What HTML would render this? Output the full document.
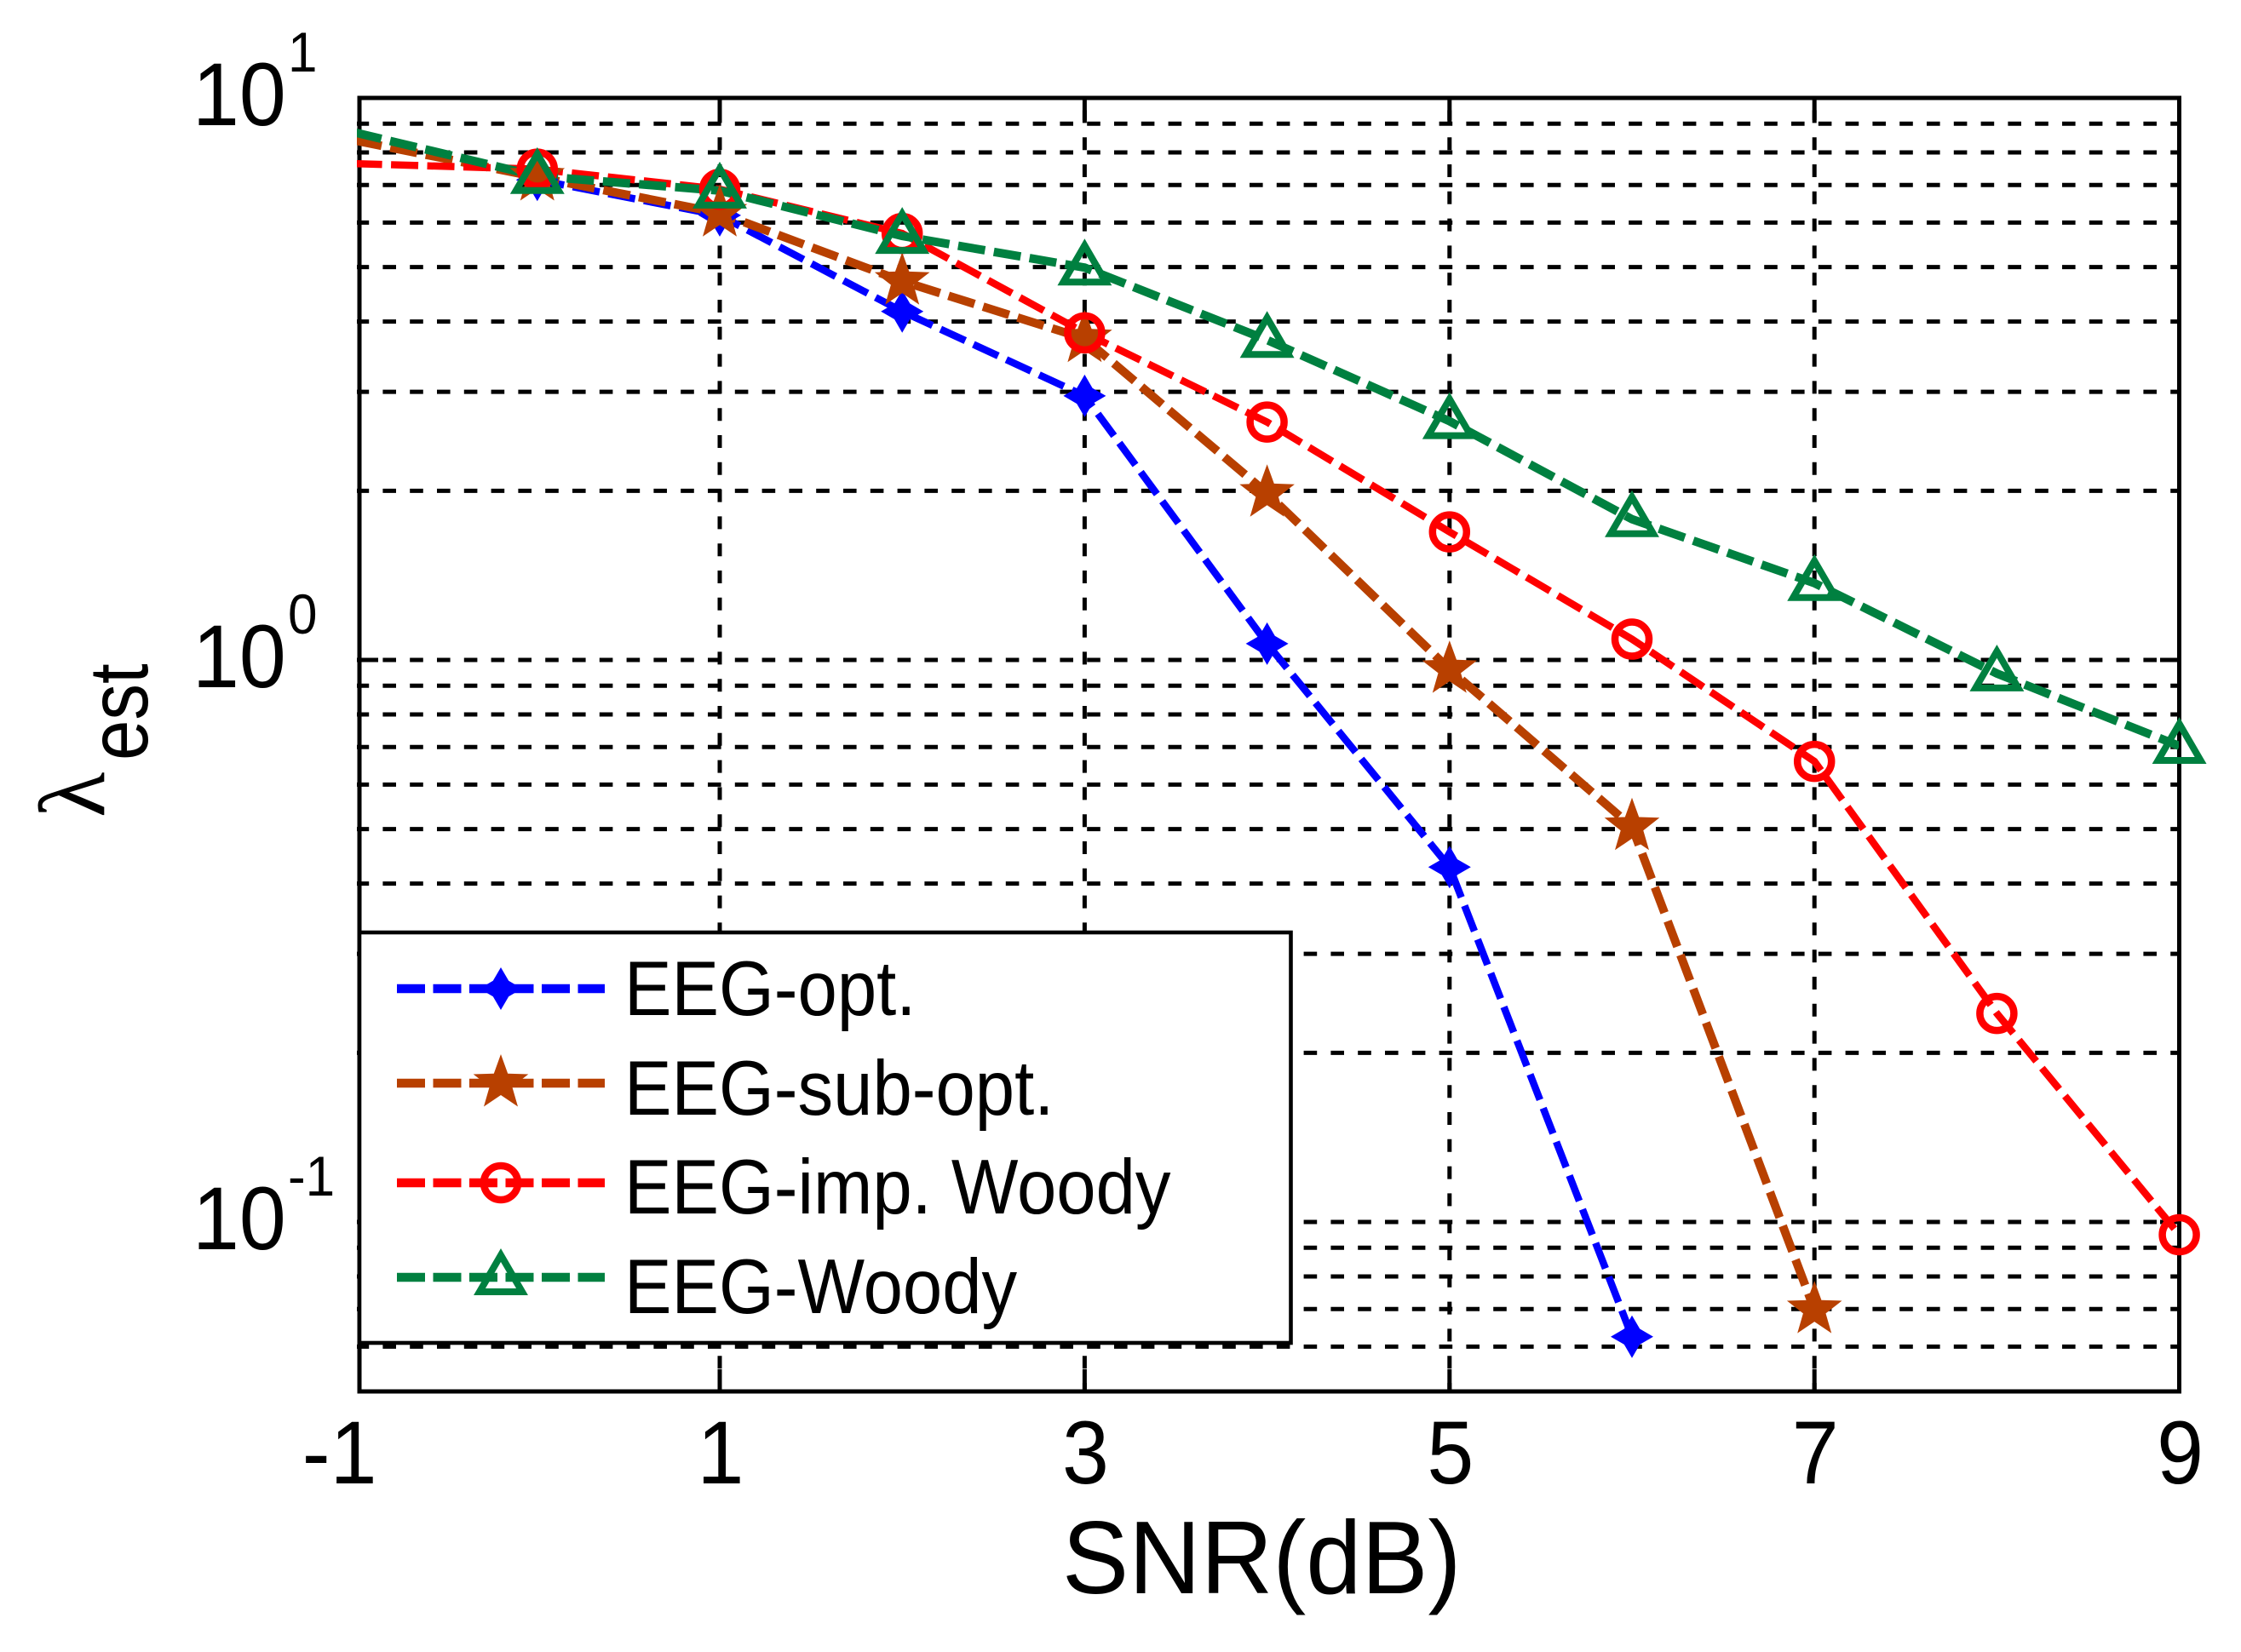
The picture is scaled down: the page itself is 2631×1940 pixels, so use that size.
<!DOCTYPE html>
<html>
<head>
<meta charset="utf-8">
<title>SNR chart</title>
<style>
html,body{margin:0;padding:0;background:#fff;}
svg{display:block;font-family:"Liberation Sans",sans-serif;}
</style>
</head>
<body>
<svg id="chart" xmlns="http://www.w3.org/2000/svg" width="2631" height="1940" viewBox="0 0 2631 1940">
  <rect x="0" y="0" width="2631" height="1940" fill="#fff"/>
  <defs>
    <clipPath id="plot-clip"><rect x="419" y="115" width="2139" height="1519"/></clipPath>
  </defs>
  <g id="grid" clip-path="url(#plot-clip)"></g>
  <g id="ticks"></g>
  <rect x="422" y="115" width="2136.5" height="1519" fill="none" stroke="#000" stroke-width="5"/>
  <g id="series-lines" clip-path="url(#plot-clip)"></g>
  <g id="series-marks"></g>
  <g id="tick-labels" fill="#000"></g>

  <text transform="translate(1247,1871) scale(0.96,1)" font-size="122" fill="#000">SNR(dB)</text>
  <g fill="#000">
    <text transform="translate(122,960) rotate(-90)" font-size="110" font-family="'Liberation Serif',serif">λ</text>
    <text transform="translate(173,893) rotate(-90) scale(0.87,1)" font-size="98">est</text>
  </g>

  <g id="legend">
    <rect x="422" y="1095" width="1093.5" height="482" fill="#fff" stroke="#000" stroke-width="4.6"/>
    <g id="legend-keys"></g>
    <g fill="#000" font-size="91">
      <text transform="translate(733,1192) scale(0.915,1)">EEG-opt.</text>
      <text transform="translate(733,1309) scale(0.915,1)">EEG-sub-opt.</text>
      <text transform="translate(733,1425) scale(0.915,1)">EEG-imp. Woody</text>
      <text transform="translate(733,1542) scale(0.915,1)">EEG-Woody</text>
    </g>
  </g>
</svg>
<script>
// ---- chart data ----
const snrOpt = [0, 1, 2, 3, 4, 5, 6];
const lambdaOpt = [7.15, 6.18, 4.17, 2.95, 1.069, 0.428, 0.0625];
const snrSub = [-1, 0, 1, 2, 3, 4, 5, 6, 7];
const lambdaSub = [8.40, 7.23, 6.24, 4.72, 3.73, 1.98, 0.962, 0.505, 0.0698];
const snrImp = [-1, 0, 1, 2, 3, 4, 5, 6, 7, 8, 9];
const lambdaImp = [7.64, 7.47, 6.88, 5.74, 3.82, 2.65, 1.69, 1.089, 0.660, 0.235, 0.0949];
const snrWoody = [-1, 0, 1, 2, 3, 4, 5, 6, 7, 8, 9];
const lambdaWoody = [8.68, 7.26, 6.84, 5.68, 4.99, 3.71, 2.66, 1.78, 1.37, 0.946, 0.703];
const xTickValues = [-1, 1, 3, 5, 7, 9];
const xTickLabels = ["-1", "1", "3", "5", "7", "9"];
const yMajorValues = [10, 1, 0.1];
const yMajorExponents = ["1", "0", "-1"];
const yMinorValues = [9, 8, 7, 6, 5, 4, 3, 2, 0.9, 0.8, 0.7, 0.6, 0.5, 0.4, 0.3, 0.2, 0.09, 0.08, 0.07, 0.06];

// ---- axis functions ----
function xScale(v) { return 845 + (v - 1) * 214.2; }
function yScale(v) { return 115 + (1 - Math.log10(v)) * 660; }

const NS = "http://www.w3.org/2000/svg";
const gridG = document.getElementById("grid");
const ticksG = document.getElementById("ticks");
const labelsG = document.getElementById("tick-labels");
const linesG = document.getElementById("series-lines");
const marksG = document.getElementById("series-marks");
const legendKeysG = document.getElementById("legend-keys");
const PLOT_L = 422, PLOT_R = 2558, PLOT_T = 115, PLOT_B = 1634;

function hGrid(v) {
  const l = document.createElementNS(NS, "line");
  
  
  l.setAttribute("x1", 417.6);
  l.setAttribute("x2", PLOT_R);
  l.setAttribute("y1", yScale(v));
  l.setAttribute("y2", yScale(v));
  l.setAttribute("stroke", "#000");
  l.setAttribute("stroke-width", 5);
  l.setAttribute("stroke-dasharray", "15.6 16.2");
  gridG.appendChild(l);
}
function vGrid(v) {
  const l = document.createElementNS(NS, "line");
  
  
  l.setAttribute("x1", xScale(v));
  l.setAttribute("x2", xScale(v));
  l.setAttribute("y1", PLOT_T);
  l.setAttribute("y2", PLOT_B);
  l.setAttribute("stroke", "#000");
  l.setAttribute("stroke-width", 5);
  l.setAttribute("stroke-dasharray", "15 16.8");
  l.setAttribute("stroke-dashoffset", -14.4);
  gridG.appendChild(l);
}
function tick(x1, y1, x2, y2) {
  const t = document.createElementNS(NS, "line");
  
  
  t.setAttribute("x1", x1);
  t.setAttribute("y1", y1);
  t.setAttribute("x2", x2);
  t.setAttribute("y2", y2);
  t.setAttribute("stroke", "#000");
  t.setAttribute("stroke-width", 5);
  ticksG.appendChild(t);
}
function label(str, x, y, size, anchor, name) {
  const t = document.createElementNS(NS, "text");
  
  
  t.setAttribute("transform", "translate(" + x + "," + y + ") scale(0.94,1)");
  t.setAttribute("font-size", size);
  t.setAttribute("text-anchor", anchor);
  t.textContent = str;
  labelsG.appendChild(t);
}

yMinorValues.forEach(hGrid);
yMajorValues.slice(1).forEach(hGrid);
xTickValues.slice(1, -1).forEach(vGrid);

xTickValues.forEach(function (v, i) {
  if (i > 0 && i < xTickValues.length - 1) {
    tick(xScale(v), PLOT_B, xScale(v), PLOT_B - 26);
    tick(xScale(v), PLOT_T, xScale(v), PLOT_T + 26);
  }
  const offset = v === -1 ? -18 : 1;
  label(xTickLabels[i], xScale(v) + offset, 1742, 105, "middle", "x-tick-label");
});
yMajorValues.forEach(function (v, i) {
  if (i > 0) {
    tick(PLOT_L, yScale(v), PLOT_L + 22, yScale(v));
    tick(PLOT_R, yScale(v), PLOT_R - 22, yScale(v));
  }
  label("10", 226, yScale(v) + 32, 105, "start", "y-tick-label");
  label(yMajorExponents[i], 338, yScale(v) - 31, 66, "start", "y-tick-exponent");
});

function starPoints(cx, cy, R, r, n) {
  const pts = [];
  for (let i = 0; i < n * 2; i++) {
    const a = -Math.PI / 2 + i * Math.PI / n;
    const d = i % 2 === 0 ? R : r;
    pts.push((cx + d * Math.cos(a)).toFixed(1) + "," + (cy + d * Math.sin(a)).toFixed(1));
  }
  return pts.join(" ");
}
function drawMarker(kind, cx, cy, color, parent) {
  if (kind === "circle") {
    const c = document.createElementNS(NS, "circle");
    
    
    c.setAttribute("cx", cx);
    c.setAttribute("cy", cy);
    c.setAttribute("r", 20);
    c.setAttribute("fill", "none");
    c.setAttribute("stroke", color);
    c.setAttribute("stroke-width", 8.5);
    parent.appendChild(c);
  } else if (kind === "triangle") {
    const p = document.createElementNS(NS, "polygon");
    
    
    p.setAttribute("points", cx + "," + (cy - 26) + " " + (cx + 25) + "," + (cy + 17) + " " + (cx - 25) + "," + (cy + 17));
    p.setAttribute("fill", "none");
    p.setAttribute("stroke", color);
    p.setAttribute("stroke-width", 8);
    parent.appendChild(p);
  } else if (kind === "star") {
    const p = document.createElementNS(NS, "polygon");
    
    
    p.setAttribute("points", starPoints(cx, cy, 34, 14, 5));
    p.setAttribute("fill", color);
    parent.appendChild(p);
  } else {
    const p = document.createElementNS(NS, "polygon");
    
    
    p.setAttribute("points", starPoints(cx, cy, 25, 13, 4));
    p.setAttribute("fill", color);
    parent.appendChild(p);
  }
}
function drawSeries(name, xs, ys, color, width, kind) {
  const line = document.createElementNS(NS, "polyline");
  
  
  line.setAttribute("points", xs.map(function (v, i) { return xScale(v) + "," + yScale(ys[i]); }).join(" "));
  line.setAttribute("fill", "none");
  line.setAttribute("stroke", color);
  line.setAttribute("stroke-width", width);
  line.setAttribute("stroke-dasharray", "32 10.5");
  linesG.appendChild(line);
  xs.forEach(function (v, i) {
    if (xScale(v) > PLOT_L) {
      drawMarker(kind, xScale(v), yScale(ys[i]), color, marksG);
    }
  });
}
drawSeries("eeg-opt", snrOpt, lambdaOpt, "#0000ff", 8.5, "diamond");
drawSeries("eeg-sub-opt", snrSub, lambdaSub, "#b84000", 10, "star");
drawSeries("eeg-imp-woody", snrImp, lambdaImp, "#ff0000", 8.5, "circle");
drawSeries("eeg-woody", snrWoody, lambdaWoody, "#008040", 10, "triangle");

function legendKey(name, y, color, kind) {
  const l = document.createElementNS(NS, "line");
  
  
  l.setAttribute("x1", 466);
  l.setAttribute("x2", 710);
  l.setAttribute("y1", y);
  l.setAttribute("y2", y);
  l.setAttribute("stroke", color);
  l.setAttribute("stroke-width", 10.5);
  l.setAttribute("stroke-dasharray", "33 9.5");
  legendKeysG.appendChild(l);
  drawMarker(kind, 588, y, color, legendKeysG);
}
legendKey("eeg-opt", 1161, "#0000ff", "diamond");
legendKey("eeg-sub-opt", 1272, "#b84000", "star");
legendKey("eeg-imp-woody", 1389, "#ff0000", "circle");
legendKey("eeg-woody", 1500, "#008040", "triangle");
</script>
</body>
</html>
